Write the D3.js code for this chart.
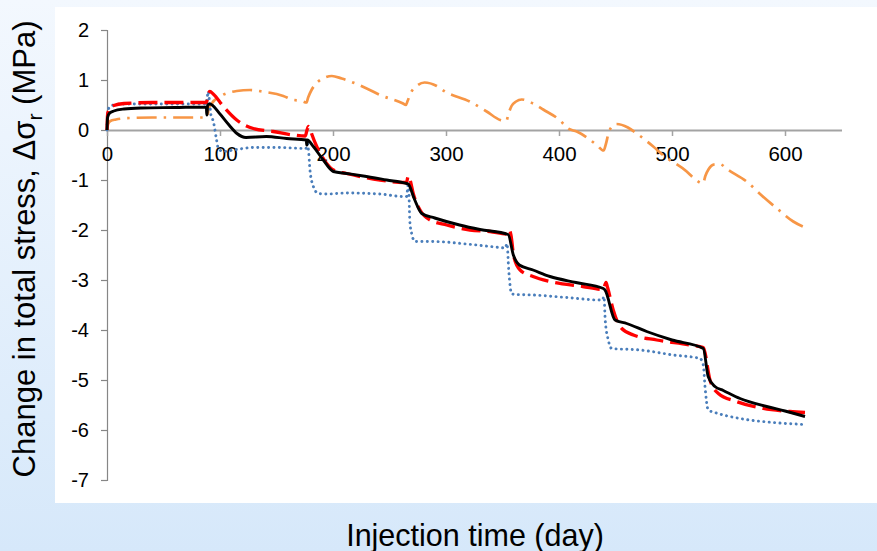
<!DOCTYPE html>
<html>
<head>
<meta charset="utf-8">
<script src="https://cdn.jsdelivr.net/npm/d3@7"></script>
<style>
  html, body { margin: 0; padding: 0; overflow: hidden; background: #fff; }
  svg { display: block; font-family: "Liberation Sans", Arial, sans-serif; }
</style>
</head>
<body>
<svg id="chart" width="877" height="551"></svg>
<script>
// Axis ticks
const xTicks = [0, 100, 200, 300, 400, 500, 600];
const yTicks = [2, 1, 0, -1, -2, -3, -4, -5, -6, -7];

// Series: [injection day, change in total stress (MPa)]
const blueDotted = [
  [0,0],[0.5,0.35],[2,0.45],[6,0.5],[15,0.52],[88,0.52],[88.6,0.62],[89.5,0.77],[90.5,0.62],
  [92,0.3],[94,0.18],[97,-0.2],[98.5,-0.37],[103,-0.43],[112,-0.4],[129.5,-0.35],[153,-0.35],
  [176,-0.37],[177.3,-0.27],[178.5,-0.45],[179.6,-0.8],[182.6,-1.13],[187,-1.27],[194.4,-1.28],
  [212,-1.26],[241.6,-1.28],[262.2,-1.33],[265,-1.33],[266.8,-1.05],[268,-1.83],[269.6,-2.07],
  [272.6,-2.23],[288.8,-2.23],[318.3,-2.28],[347.8,-2.35],[352.5,-2.36],[354,-2.27],[355.5,-2.8],
  [358,-3.27],[361,-3.29],[377,-3.3],[406.8,-3.35],[436.3,-3.4],[438.5,-3.4],[439.8,-3.33],
  [440.9,-3.8],[443.6,-4.2],[446.6,-4.37],[471.7,-4.4],[501.2,-4.5],[524.8,-4.57],[527.7,-4.7],
  [529.2,-5.13],[532.1,-5.6],[538,-5.65],[560.2,-5.77],[589.6,-5.85],[617.7,-5.89]
];

const redDashed = [
  [0,0],[0.5,0.3],[2,0.42],[6,0.49],[15,0.53],[40,0.55],[88,0.55],[89.5,0.72],[91,0.77],[94,0.72],
  [103,0.47],[114.8,0.2],[129.5,0.03],[147,-0.03],[165,-0.1],[175.5,-0.12],[177,0.0],[178.3,0.07],
  [180,0.0],[181.5,-0.1],[185.6,-0.33],[194.4,-0.67],[200.3,-0.8],[212,-0.87],[241.6,-1.0],
  [262.2,-1.05],[265,-1.05],[266.6,-0.92],[268,-0.98],[271,-1.27],[277,-1.6],[285.8,-1.8],
  [300.6,-1.9],[321.2,-2.0],[339,-2.03],[353.7,-2.08],[356,-2.0],[357.5,-2.1],[360,-2.53],
  [365.6,-2.8],[377,-2.93],[392,-3.03],[421,-3.13],[439,-3.19],[441.6,-3.05],[443,-3.15],
  [448,-3.6],[454,-3.93],[465.8,-4.1],[486.5,-4.2],[516,-4.3],[527.7,-4.35],[533.6,-5.0],
  [541,-5.27],[557,-5.43],[580.8,-5.57],[604.4,-5.63],[617.7,-5.65]
];

const blackSolid = [
  [0,0],[0.5,0.25],[2,0.33],[6,0.38],[15,0.42],[30,0.44],[60,0.45],[88,0.46],[88.2,0.3],[88.6,0.3],
  [89,0.5],[91,0.52],[100,0.32],[108,0.1],[115,-0.07],[123,-0.15],[141,-0.13],[159,-0.17],
  [176.4,-0.2],[176.7,-0.3],[177,-0.3],[177.3,-0.2],[182.6,-0.33],[191.4,-0.6],[200.3,-0.83],
  [212,-0.87],[226.8,-0.92],[247.5,-1.0],[265.2,-1.07],[266.6,-1.08],[272,-1.38],[278.5,-1.67],
  [290,-1.76],[312,-1.9],[330,-1.99],[355,-2.09],[359.6,-2.5],[364.9,-2.7],[377,-2.8],
  [392,-2.93],[415,-3.05],[439.2,-3.17],[440.7,-3.2],[449.6,-3.8],[459.9,-3.87],[477.6,-4.03],
  [500,-4.2],[527.7,-4.37],[532,-4.93],[538,-5.13],[545.4,-5.21],[560.2,-5.37],[583.8,-5.53],
  [600,-5.62],[617.7,-5.73]
];

const orangeDashDot = [
  [0,0],[1,0.12],[3,0.18],[8,0.21],[20,0.24],[40,0.25],[88.5,0.25],[90,0.42],[92.7,0.53],
  [100,0.67],[114.8,0.78],[126.5,0.8],[137,0.77],[156,0.68],[163.5,0.61],[172.3,0.58],[176.5,0.55],
  [178,0.65],[181,0.8],[186,0.95],[192,1.04],[199,1.08],[207.7,1.03],[229.8,0.83],[241.6,0.7],
  [262,0.53],[264.5,0.5],[266,0.58],[269,0.75],[274,0.88],[281,0.95],[291.8,0.88],[299,0.77],
  [321,0.57],[336,0.37],[348,0.2],[353.5,0.18],[355,0.3],[358,0.48],[362,0.57],[367,0.61],
  [377,0.53],[386,0.41],[401,0.19],[408,0.03],[415.7,-0.03],[433.4,-0.3],[439.5,-0.41],
  [441.5,-0.28],[444,-0.05],[447,0.07],[451,0.12],[461,0.05],[468.8,-0.07],[483.4,-0.33],
  [492,-0.5],[513,-0.83],[519.7,-0.97],[527.5,-1.07],[529.5,-0.92],[532.5,-0.78],[537,-0.69],
  [542,-0.68],[549.8,-0.8],[566,-1.03],[579.4,-1.31],[594,-1.59],[607.3,-1.83],[617.7,-1.95]
];

const svg = d3.select("#chart");
const W = 877, H = 551;

// Backdrop: soft blue gradient behind a white plotting panel
const defs = svg.append("defs");
const grad = defs.append("linearGradient").attr("id", "bg").attr("x1", 0).attr("y1", 0).attr("x2", 0).attr("y2", 1);
grad.append("stop").attr("offset", "0%").attr("stop-color", "#f3f8fe");
grad.append("stop").attr("offset", "100%").attr("stop-color", "#d6e8fa");
svg.append("rect").attr("width", W).attr("height", H).attr("fill", "url(#bg)");
svg.append("rect").attr("x", 55).attr("y", 7).attr("width", W - 55).attr("height", 496).attr("fill", "#ffffff");

const x = d3.scaleLinear().domain([0, 650]).range([107, 841.5]);
const y = d3.scaleLinear().domain([-7, 2]).range([480, 30]);

const plain = d => String(d);

// Y axis
const yAxis = svg.append("g").attr("transform", `translate(${x(0)},0)`)
  .call(d3.axisLeft(y).tickValues(yTicks).tickSize(6).tickPadding(12).tickFormat(plain));
yAxis.select(".domain").attr("stroke", "#868686").attr("stroke-width", 1.2);
yAxis.selectAll(".tick line").attr("stroke", "#868686").attr("stroke-width", 1.2);
yAxis.selectAll(".tick text").attr("font-size", 20).attr("fill", "#000")
  .attr("font-family", "Liberation Sans, Arial, sans-serif");

// X axis drawn through zero stress
const xAxis = svg.append("g").attr("transform", `translate(0,${y(0)})`)
  .call(d3.axisBottom(x).tickValues(xTicks).tickSize(6).tickPadding(10).tickSizeOuter(0).tickFormat(plain));
xAxis.select(".domain").attr("stroke", "#a3a3a3").attr("stroke-width", 2);
xAxis.selectAll(".tick line").attr("stroke", "#a3a3a3").attr("stroke-width", 1.5);
xAxis.selectAll(".tick text").attr("font-size", 20.5).attr("fill", "#000")
  .attr("font-family", "Liberation Sans, Arial, sans-serif");

// Series lines
const line = d3.line().x(d => x(d[0])).y(d => y(d[1])).curve(d3.curveMonotoneX);

const series = [
  { data: orangeDashDot, color: "#f79646", width: 2.7, dash: "20 7 2.5 7", cap: "butt" },
  { data: blueDotted, color: "#4a7ebb", width: 2.9, dash: "0.1 5.3", cap: "round" },
  { data: redDashed, color: "#ff0000", width: 3.3, dash: "19 7", cap: "butt" },
  { data: blackSolid, color: "#000000", width: 2.9, dash: null, cap: "butt" }
];

svg.append("g").selectAll("path").data(series).join("path")
  .attr("d", s => line(s.data))
  .attr("fill", "none")
  .attr("stroke", s => s.color)
  .attr("stroke-width", s => s.width)
  .attr("stroke-dasharray", s => s.dash)
  .attr("stroke-linecap", s => s.cap)
  .attr("stroke-linejoin", "round");

// Axis titles
svg.append("text")
  .attr("x", 475).attr("y", 546)
  .attr("text-anchor", "middle")
  .attr("font-size", 30.5)
  .attr("fill", "#000")
  .text("Injection time (day)");

const yt = svg.append("text")
  .attr("transform", "translate(35,249) rotate(-90)")
  .attr("text-anchor", "middle")
  .attr("font-size", 31)
  .attr("fill", "#000");
yt.append("tspan").text("Change in total stress, Δσ");
yt.append("tspan").attr("font-size", 21).attr("dy", 7).text("r");
yt.append("tspan").attr("dy", -7).text(" (MPa)");
</script>
</body>
</html>
